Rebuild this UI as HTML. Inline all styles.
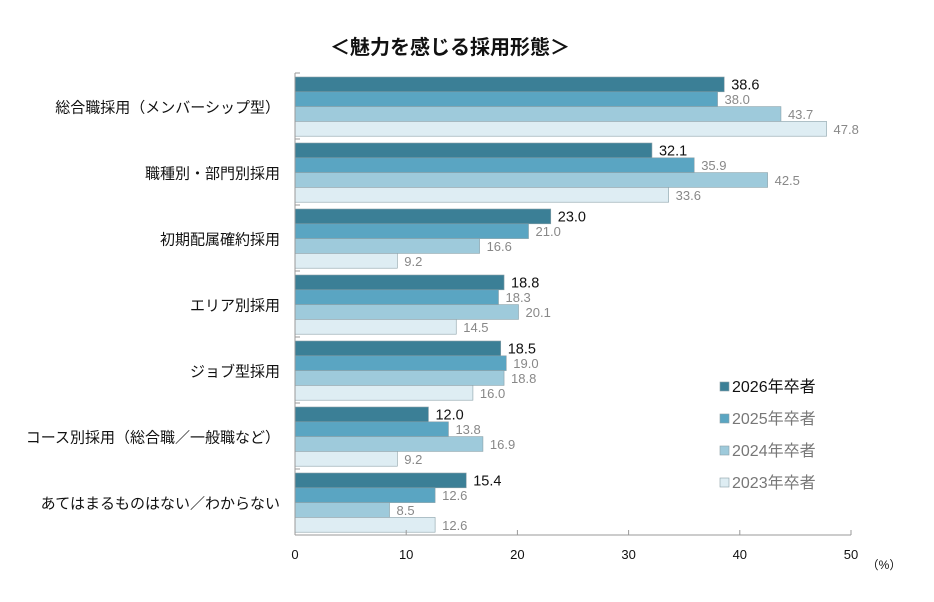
<!DOCTYPE html>
<html><head><meta charset="utf-8"><style>
body{margin:0;background:#fff;}
svg{display:block;font-family:"Liberation Sans","Noto Sans CJK JP",sans-serif;}
</style></head><body>
<svg id="chart" width="934" height="602" viewBox="0 0 934 602">
<text x="450" y="54" text-anchor="middle" font-size="20" font-weight="bold" fill="#111">＜魅力を感じる採用形態＞</text>
<g id="plot"></g>
</svg>
<script>
const categories=["総合職採用（メンバーシップ型）","職種別・部門別採用","初期配属確約採用","エリア別採用","ジョブ型採用","コース別採用（総合職／一般職など）","あてはまるものはない／わからない"];
const seriesNames=["2026年卒者","2025年卒者","2024年卒者","2023年卒者"];
const v2026=[38.6,32.1,23.0,18.8,18.5,12.0,15.4];
const v2025=[38.0,35.9,21.0,18.3,19.0,13.8,12.6];
const v2024=[43.7,42.5,16.6,20.1,18.8,16.9,8.5];
const v2023=[47.8,33.6,9.2,14.5,16.0,9.2,12.6];
const xTicks=[0,10,20,30,40,50];
const series=[v2026,v2025,v2024,v2023];
const colors=["#3b7f96","#5aa5c2","#9ecadb","#deedf3"];
const ns="http://www.w3.org/2000/svg";
const g=document.getElementById('plot');
const X0=295,X1=851,Y0=73,pitch=66,barH=14.8;
const xs=v=>X0+(X1-X0)*v/50;
function el(t,a){const e=document.createElementNS(ns,t);for(const k in a)e.setAttribute(k,a[k]);g.appendChild(e);return e;}
categories.forEach((c,i)=>{
  const top=Y0+i*pitch+4;
  const t=el('text',{x:280,y:top+barH*2+6,'text-anchor':'end','font-size':15,fill:'#111'});
  t.textContent=c;
  
  
  series.forEach((s,j)=>{
    const y=top+j*barH;
    const r=el('rect',{x:X0,y:y,width:xs(s[i])-X0,height:barH,fill:colors[j],stroke:'#8aa0a8','stroke-width':0.6});
    
    
    const l=el('text',{x:xs(s[i])+7,y:y+barH/2+5,'font-size':j==0?14.5:13,fill:j==0?'#111':'#888'});
    l.textContent=s[i].toFixed(1);
    
    
  });
  const tk=el('line',{x1:X0,x2:X0+5,y1:Y0+i*pitch,y2:Y0+i*pitch,stroke:'#999'});
  
  
});
const ya=el('line',{x1:X0,x2:X0,y1:Y0,y2:Y0+7*pitch,stroke:'#999'});


const xa=el('line',{x1:X0,x2:X1,y1:Y0+7*pitch,y2:Y0+7*pitch,stroke:'#999'});


xTicks.forEach(v=>{
  const tl=el('line',{x1:xs(v),x2:xs(v),y1:Y0+7*pitch-5,y2:Y0+7*pitch,stroke:'#999'});
  
  
  const t=el('text',{x:xs(v),y:559,'text-anchor':'middle','font-size':13,fill:'#111'});
  t.textContent=v;
  
  
});
const u=el('text',{x:884,y:569,'text-anchor':'middle','font-size':12,fill:'#111'});
u.textContent='（%）';


seriesNames.forEach((n,j)=>{
  const y=388+j*32;
  const sq=el('rect',{x:720,y:y-6,width:9,height:9,fill:colors[j],stroke:'#8aa0a8','stroke-width':0.6});
  
  
  const t=el('text',{x:732,y:y+4,'font-size':16,fill:j==0?'#111':'#777'});
  t.textContent=n;
  
  
});
</script>
</body></html>
